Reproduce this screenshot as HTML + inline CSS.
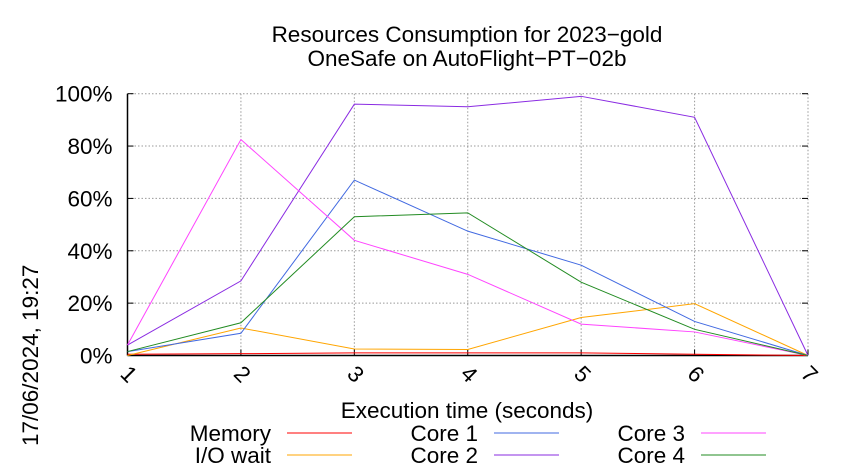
<!DOCTYPE html>
<html><head><meta charset="utf-8"><style>
html,body{margin:0;padding:0;background:#fff;width:850px;height:475px;overflow:hidden}
text{font-family:"Liberation Sans",sans-serif;fill:#000}
</style></head><body>
<svg id="chart" width="850" height="475" xmlns="http://www.w3.org/2000/svg">
<text x="467" y="42" font-size="22.5" text-anchor="middle">Resources Consumption for 2023−gold</text>
<text x="467" y="66" font-size="22.5" text-anchor="middle">OneSafe on AutoFlight−PT−02b</text>
<text transform="translate(38,446) rotate(-90)" font-size="22.5">17/06/2024, 19:27</text>
<text x="467" y="418" font-size="22.5" text-anchor="middle">Execution time (seconds)</text>
<g id="grid"></g><g id="axes"></g><g id="series"></g><g id="legend"></g>
</svg>
<script>
const xTicks=[1,2,3,4,5,6,7];
const yTicks=[0,20,40,60,80,100];
const seriesNames=["Memory","I/O wait","Core 1","Core 2","Core 3","Core 4"];
const seriesColors=["#ff0000","#ffa500","#4169e1","#8a2be2","#ff44ff","#228b22"];
const memory=[0.5,0.7,1,1,1,0.5,0];
const ioWait=[0,10.5,2.5,2.3,14.5,19.8,0];
const core1=[1.5,8.5,67,47.5,34.5,13,0];
const core2=[4,28.5,96,95,99,91,0];
const core3=[4,82.5,44,31,12,9,0];
const core4=[1.5,12.5,53,54.5,28,10,0];
const allSeries=[memory,ioWait,core1,core2,core3,core4];
const NS="http://www.w3.org/2000/svg";
const X0=127.5,X1=808,Y0=355.5,Y1=93.7;
const xs=v=>X0+(v-1)/(7-1)*(X1-X0);
const ys=v=>Y0-v/100*(Y0-Y1);
function mk(tag,attrs,parent){const e=document.createElementNS(NS,tag);for(const k in attrs)e.setAttribute(k,attrs[k]);parent.appendChild(e);return e;}
const grid=document.getElementById('grid'),axes=document.getElementById('axes'),ser=document.getElementById('series'),leg=document.getElementById('legend');
yTicks.forEach(t=>{
  const l=mk('line',{x1:X0,x2:X1,y1:ys(t),y2:ys(t),stroke:'#999','stroke-dasharray':'1.5,2','stroke-width':1},grid);
  
  
  const tk=mk('text',{x:X0-15,y:ys(t)+8,'font-size':22.5,'text-anchor':'end'},axes);
  tk.textContent=t+'%';
  
  
  mk('line',{x1:X0,x2:X0+6,y1:ys(t),y2:ys(t),stroke:'#000'},axes);
  mk('line',{x1:X1-6,x2:X1,y1:ys(t),y2:ys(t),stroke:'#000'},axes);
});
xTicks.forEach(t=>{
  const l=mk('line',{x1:xs(t),x2:xs(t),y1:Y1,y2:Y0,stroke:'#999','stroke-dasharray':'1.5,2','stroke-width':1},grid);
  
  
  mk('line',{x1:xs(t),x2:xs(t),y1:Y0,y2:Y0-6,stroke:'#000'},axes);
  const tk=mk('text',{transform:`translate(${xs(t)-4},${Y0+24}) rotate(45)`,'font-size':22.5,'text-anchor':'middle'},axes);
  tk.textContent=t;
  
  
});
const la=mk('line',{x1:X0,x2:X0,y1:Y1,y2:Y0,stroke:'#000','stroke-width':1.5},axes);


const ba=mk('line',{x1:X0,x2:X1,y1:Y0,y2:Y0,stroke:'#000','stroke-width':1.5},axes);


allSeries.forEach((s,i)=>{
  const pts=s.map((v,j)=>xs(xTicks[j])+','+ys(v)).join(' ');
  const p=mk('polyline',{points:pts,fill:'none',stroke:seriesColors[i],'stroke-width':1},ser);
  
  
});
for(let col=0;col<3;col++){
  for(let row=0;row<2;row++){
    const idx=col*2+row;
    const rowY=[433,455][row];
    const colX=[271,478,685][col];
    const g=mk('g',{},leg);
    
    
    const t=mk('text',{x:colX,y:rowY+8,'font-size':22.5,'text-anchor':'end'},g);
    t.textContent=seriesNames[idx];
    mk('line',{x1:colX+16,x2:colX+81,y1:rowY,y2:rowY,stroke:seriesColors[idx],'stroke-width':1},g);
  }
}
</script>
</body></html>
